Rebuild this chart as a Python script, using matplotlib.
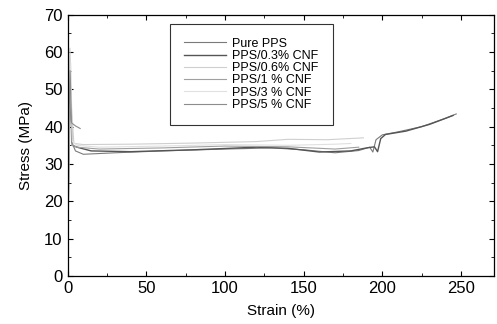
import matplotlib
matplotlib.use("Agg")
import matplotlib.pyplot as plt
from matplotlib.ticker import MultipleLocator

# stress-strain curves
labels = ["Pure PPS", "PPS/0.3% CNF", "PPS/0.6% CNF", "PPS/1 % CNF", "PPS/3 % CNF", "PPS/5 % CNF"]

pure_x = [0, 0.8, 1.5, 2.5, 5, 10, 30, 60, 100, 130, 150, 170, 185, 192, 194, 196, 200, 210, 225, 240, 247]
pure_y = [0, 45, 55, 36, 33.5, 32.6, 33.0, 33.5, 34.0, 34.3, 33.8, 33.0, 33.6, 34.5, 33.2, 36.5, 37.8, 38.6, 40.0, 42.2, 43.4]

cnf03_x = [0, 1, 1.8, 3, 6, 15, 40, 80, 120, 140, 160, 180, 190, 195, 197, 199, 202, 215, 230, 245]
cnf03_y = [0, 40, 51, 35, 34.5, 33.5, 33.3, 33.8, 34.5, 34.2, 33.2, 33.5, 34.3, 34.6, 33.3, 36.8, 37.9, 38.8, 40.6, 43.0]

cnf06_x = [0, 0.8, 1.5, 2.5, 4, 10, 40, 80, 120, 140, 165, 188]
cnf06_y = [0, 45, 61, 45, 35.5, 35.2, 35.3, 35.6, 36.0, 36.6, 36.5, 37.0]

cnf1_x = [0, 1, 1.8, 3, 6, 20, 60, 100, 140, 170, 185]
cnf1_y = [0, 38, 50, 35, 34.5, 34.0, 34.3, 34.8, 34.6, 34.0, 34.5]

cnf3_x = [0, 1, 2, 3, 6, 20, 60, 100, 140, 170, 180]
cnf3_y = [0, 42, 57, 36, 35, 34.5, 34.8, 35.2, 35.0, 35.3, 35.5]

cnf5_x = [0, 0.8, 1.6, 2.5, 5, 8]
cnf5_y = [0, 40, 55, 41, 40.2, 39.5]

xs = [pure_x, cnf03_x, cnf06_x, cnf1_x, cnf3_x, cnf5_x]
ys = [pure_y, cnf03_y, cnf06_y, cnf1_y, cnf3_y, cnf5_y]
colors = ["#7a7a7a", "#555555", "#cfcfcf", "#a0a0a0", "#e0e0e0", "#8c8c8c"]
widths = [0.8, 1.0, 0.8, 0.8, 0.8, 0.8]

plt.rcParams['font.family'] = ['Liberation Sans', 'DejaVu Sans']

fig = plt.figure(figsize=(4.97, 3.24), dpi=100)
ax = fig.add_axes([0.136, 0.148, 0.858, 0.807])

for x, y, c, w, lab in zip(xs, ys, colors, widths, labels):
    ax.plot(x, y, color=c, lw=w, label=lab)

ax.set_xlim(0, 271)
ax.set_ylim(0, 70)
ax.xaxis.set_major_locator(MultipleLocator(50))
ax.xaxis.set_minor_locator(MultipleLocator(25))
ax.yaxis.set_major_locator(MultipleLocator(10))
ax.yaxis.set_minor_locator(MultipleLocator(5))
ax.tick_params(which='both', direction='in', top=True, right=True, labelsize=12)
ax.tick_params(which='major', length=3.5, width=0.8)
ax.tick_params(which='minor', length=2, width=0.6)
for s in ax.spines.values():
    s.set_linewidth(0.9)

ax.set_xlabel('Strain (%)', fontsize=11, labelpad=6)
ax.set_ylabel('Stress (MPa)', fontsize=11, labelpad=8)

leg = ax.legend(loc='upper left', bbox_to_anchor=(0.240, 0.964), borderaxespad=0,
                fontsize=9, frameon=True, fancybox=False, handlelength=3.4,
                handletextpad=0.5, labelspacing=0.02, borderpad=1.1)
leg.get_frame().set_edgecolor('black')
leg.get_frame().set_linewidth(0.8)

plt.savefig('out.png', dpi=100)
